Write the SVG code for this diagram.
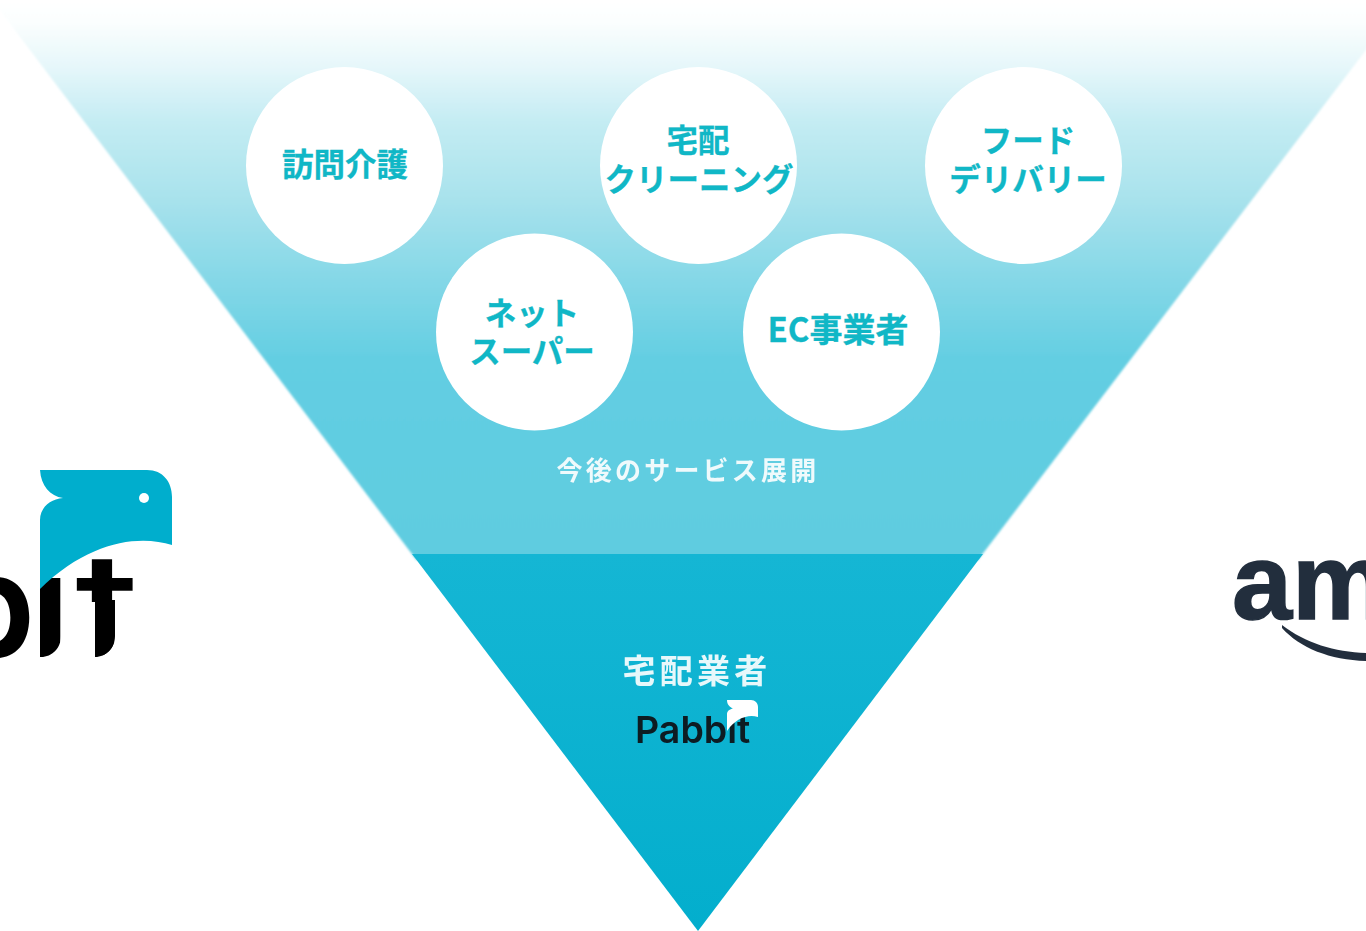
<svg xmlns="http://www.w3.org/2000/svg" width="1366" height="931" viewBox="0 0 1366 931">
<style>
.c{fill:#fff}
.t{font-family:"Noto Sans CJK JP","Noto Sans",sans-serif;font-weight:700;font-size:31.500px;fill:#10b7c6;stroke:#10b7c6;stroke-width:.3px;text-anchor:middle}
.w{font-family:"Noto Sans CJK JP","Noto Sans",sans-serif;font-weight:700;fill:#fff;fill-opacity:.9;text-anchor:middle}
.bird{fill:#02aecd}
.lg{font-family:Inter,"Liberation Sans",sans-serif;font-weight:600;fill:#000}
</style>
<defs>
<filter id="soft" x="-5%" y="-5%" width="110%" height="110%"><feGaussianBlur stdDeviation=".6"/></filter>
<filter id="edge" x="-2%" y="-2%" width="104%" height="104%"><feGaussianBlur stdDeviation="1"/></filter>
<clipPath id="clipI"><path d="M40 560H61V636C61 648 52 657 41 657H40Z"/></clipPath>
<clipPath id="clipT"><path d="M60 550H140V602H115V636C115 648 106 657 95 657V602H60Z"/></clipPath>
<linearGradient id="up" gradientUnits="userSpaceOnUse" x1="0" y1="0" x2="0" y2="554">
<stop offset="0" stop-color="#fff"/>
<stop offset=".04" stop-color="#fbfefe"/>
<stop offset=".12" stop-color="#e6f7fa"/>
<stop offset=".22" stop-color="#c4ecf3"/>
<stop offset=".36" stop-color="#a8e2ec"/>
<stop offset=".5" stop-color="#86d8e7"/>
<stop offset=".65" stop-color="#63cee2"/>
<stop offset="1" stop-color="#5fcce0"/>
</linearGradient>
<linearGradient id="low" gradientUnits="userSpaceOnUse" x1="0" y1="554" x2="0" y2="931">
<stop offset="0" stop-color="#15b6d4"/>
<stop offset="1" stop-color="#03aecd"/>
</linearGradient>
</defs>
<rect width="1366" height="931" fill="#fff"/>
<g id="logo-left" filter="url(#soft)">
<text class="lg" font-size="145" y="657" x="-55">b</text>
<g clip-path="url(#clipI)"><text class="lg" font-size="145" y="657" x="30" style="font-weight:700">ı</text></g>
<g clip-path="url(#clipT)"><text class="lg" font-size="145" y="657" transform="translate(75 0) scale(1.3 1)" style="font-weight:500">t</text></g>
<path d="M95 600H115V636C115 648 106 657 95 657Z" fill="#000"/>
<path class="bird" d="M40 470H147C163 470 172 482 172 497V545C140 535 90 540 40 589V520C40 508 50 499 63 498C50 496 41 486 40 470Z"/>
<circle cx="144" cy="498" r="5" fill="#fff"/>
</g>
<g id="logo-right" filter="url(#soft)">
<text x="1232" y="619" font-family="Liberation Sans,sans-serif" font-weight="700" font-size="108" fill="#232f3e" stroke="#232f3e" stroke-width="1.500">am</text>
<path d="M1282 625C1305 643 1335 652 1366 653V661C1330 660 1300 648 1282 628Z" fill="#232f3e"/>
</g>
<g id="tier-upper"><path d="M-8 0H1404L978 560H416.500Z" fill="url(#up)" filter="url(#edge)"/>
<text class="w" x="688" y="480" font-size="26" letter-spacing="3.200" filter="url(#soft)">今後のサービス展開</text></g>
<g id="tier-lower"><path d="M412 554H983L698 931Z" fill="url(#low)"/>
<text class="w" x="697" y="683" font-size="33" letter-spacing="4.300" filter="url(#soft)">宅配業者</text>
<g filter="url(#soft)">
<text x="635" y="743" font-family="Inter,Liberation Sans,sans-serif" font-weight="600" font-size="37.500" fill="#0b1a22">Pabbit</text>
<path d="M727 700H751C755 700 758 703 758 707V717C748 714 736 718 727 731V714C727 711 730 709 733 708.500C730 707 727 705 727 700Z" fill="#fff"/>
</g>
</g>
<g id="connectors"/>
<g id="n1"><circle class="c" cx="344.500" cy="165.500" r="98.500"/><text class="t" x="345" y="175.500">訪問介護</text></g>
<g id="n2"><circle class="c" cx="698.500" cy="165.500" r="98.500"/><text class="t" x="698" y="152">宅配</text><text class="t" x="699" y="190.500">クリーニング</text></g>
<g id="n3"><circle class="c" cx="1023.500" cy="165.500" r="98.500"/><text class="t" x="1028" y="152">フード</text><text class="t" x="1028" y="190.500">デリバリー</text></g>
<g id="n4"><circle class="c" cx="534.500" cy="332" r="98.500"/><text class="t" x="532" y="325">ネット</text><text class="t" x="532" y="363">スーパー</text></g>
<g id="n5"><circle class="c" cx="841.500" cy="332" r="98.500"/><text class="t" x="838" y="342" style="font-size:33px">EC事業者</text></g>
</svg>
